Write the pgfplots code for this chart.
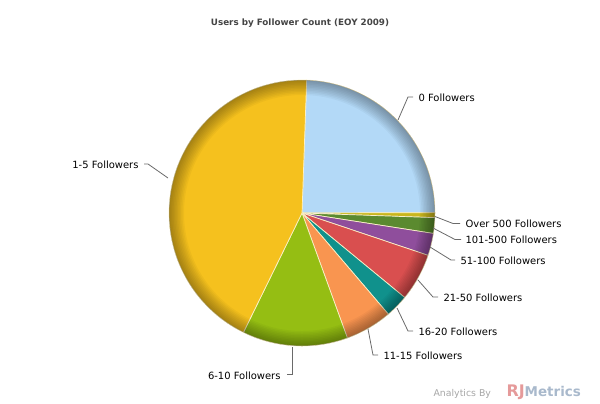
\documentclass[border=0pt]{standalone}
\usepackage{pgfplots}
\usepackage{pgfplotstable}
\pgfplotsset{compat=1.18}
\usepackage{fontspec}
\setmainfont{DejaVu Sans}

\definecolor{c0}{HTML}{B3D9F7}
\definecolor{c1}{HTML}{C9B61C}
\definecolor{c2}{HTML}{5B8A2F}
\definecolor{c3}{HTML}{8F4E9C}
\definecolor{c4}{HTML}{D94F4F}
\definecolor{c5}{HTML}{10918C}
\definecolor{c6}{HTML}{F99550}
\definecolor{c7}{HTML}{95BE13}
\definecolor{c8}{HTML}{F5C11E}
\definecolor{sep}{HTML}{FAF0C8}
\definecolor{lbl}{HTML}{555555}
\definecolor{lead}{HTML}{6A6A6A}

% share of users (%), clockwise from the top
\pgfplotstableread{
share col
24.4 c0
0.6  c1
1.9  c2
2.7  c3
5.8  c4
2.8  c5
5.7  c6
12.8 c7
43.3 c8
}\piedata

\begin{document}
\begin{tikzpicture}
\begin{axis}[
    scale only axis, width=600bp, height=403bp,
    xmin=0, xmax=600, ymin=0, ymax=403, y dir=reverse,
    hide axis, clip=false,
    every node/.style={inner sep=0pt, text=lbl, font=\fontsize{9.6}{11}\selectfont},
]
\path (rel axis cs:0,0) rectangle (rel axis cs:1,1);

\pgfplotstablegetrowsof{\piedata}
\pgfmathtruncatemacro\N{\pgfplotsretval-1}
\xdef\angA{88}
\pgfplotsforeachungrouped \i in {0,...,\N}{
  \pgfplotstablegetelem{\i}{share}\of\piedata \let\v\pgfplotsretval
  \pgfplotstablegetelem{\i}{col}\of\piedata \let\c\pgfplotsretval
  \pgfmathsetmacro\angB{\angA-3.6*\v}
  \edef\slice{\noexpand\addplot[draw=sep, line width=0.7bp, fill=\c, domain=\angB:\angA, samples=60]
    ({302+133*cos(x)},{213-133*sin(x)}) -- (302,213) -- cycle;}
  \slice
  \xdef\angA{\angB}
}

% darker rim
\pgfplotsinvokeforeach{118,119.5,121,122.5,124,125.5,127,128.5,130,131.5}{
  \fill[black, fill opacity=0.035, even odd rule]
    (302,213) circle[radius=133bp] (302,213) circle[radius=#1bp];
}

% title
\node[font=\fontsize{8.8}{10}\selectfont\bfseries, text=lbl!80!black] at (300,23) {Users by Follower Count (EOY 2009)};

% leader lines and labels
\draw[lead, line width=0.8bp] (398,120) -- (408,97) -- (413,97);
\node[anchor=west] at (415,98) {0 Followers};
\draw[lead, line width=0.8bp] (435,216.5) -- (453,223.5) -- (460,223.5);
\node[anchor=west] at (462,224) {Over 500 Followers};
\draw[lead, line width=0.8bp] (433,228) -- (455,239.5) -- (461,239.5);
\node[anchor=west] at (462,240) {101-500 Followers};
\draw[lead, line width=0.8bp] (430,247) -- (451,260) -- (455,260);
\node[anchor=west] at (457,261) {51-100 Followers};
\draw[lead, line width=0.8bp] (418,280) -- (433,297) -- (438,297);
\node[anchor=west] at (440,298) {21-50 Followers};
\draw[lead, line width=0.8bp] (397,308) -- (408,331) -- (413,331);
\node[anchor=west] at (415,332) {16-20 Followers};
\draw[lead, line width=0.8bp] (368,329) -- (373,355) -- (378,355);
\node[anchor=west] at (380,356) {11-15 Followers};
\draw[lead, line width=0.8bp] (292.5,347) -- (292.5,374) -- (287,374);
\node[anchor=east] at (284,376) {6-10 Followers};
\draw[lead, line width=0.8bp] (168,178) -- (148,164) -- (144,164);
\node[anchor=east] at (142,165) {1-5 Followers};

% watermark
\node[anchor=base west, text=black!35, font=\fontsize{9.4}{11}\selectfont] at (430,396) {Analytics By};
\node[anchor=base west, font=\bfseries] at (503,396)
  {\fontsize{16}{16}\selectfont\textcolor[HTML]{E59A9A}{RJ}\fontsize{13.5}{14}\selectfont\textcolor[HTML]{A9B9CC}{Metrics}};
\end{axis}
\end{tikzpicture}
\end{document}
